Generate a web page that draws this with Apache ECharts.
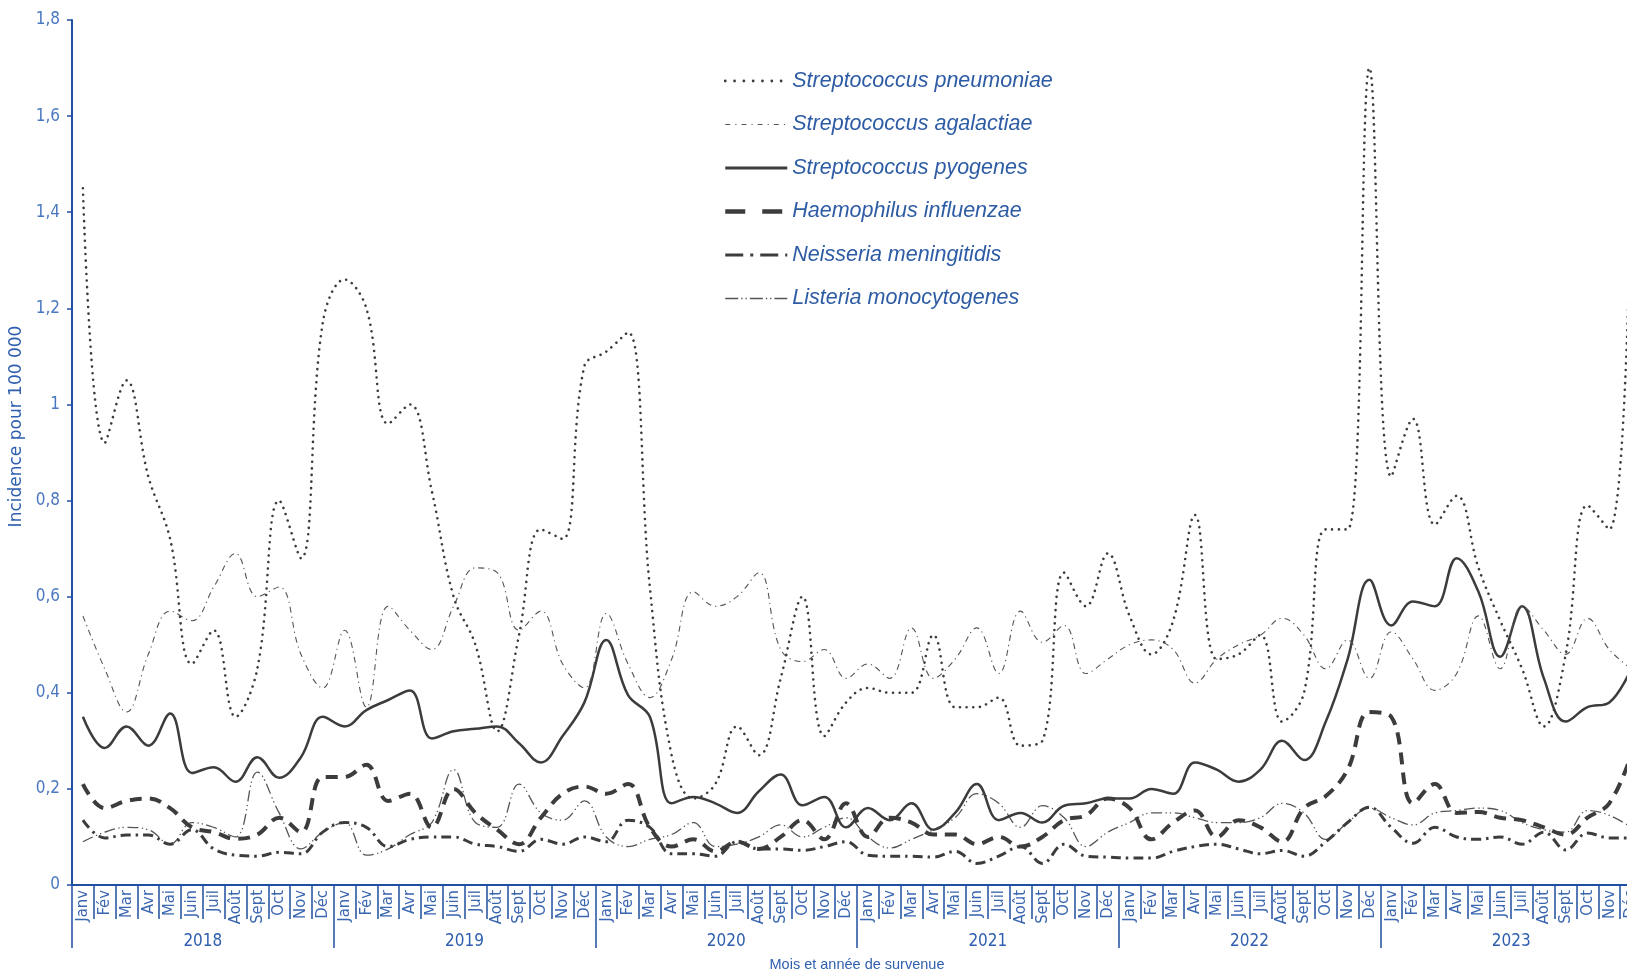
<!DOCTYPE html>
<html>
<head>
<meta charset="utf-8">
<script src="https://cdn.jsdelivr.net/npm/echarts@6/dist/echarts.min.js"></script>
<style>
html,body{margin:0;padding:0;background:#fff;overflow:hidden;}
#chart{width:1627px;height:970px;}
</style>
</head>
<body>
<div id="chart"></div>
<script>
const monthNames = ['Janv','Fév','Mar','Avr','Mai','Juin','Juil','Août','Sept','Oct','Nov','Déc'];
const years = ['2018','2019','2020','2021','2022','2023'];

const pneumoniae = [
  1.45,0.92,1.05,0.85,0.72,0.46,0.53,0.35,0.45,0.80,0.68,1.17,
  1.26,1.20,0.96,1.00,0.82,0.60,0.50,0.32,0.52,0.74,0.72,1.08,
  1.11,1.15,0.62,0.27,0.18,0.21,0.33,0.27,0.43,0.60,0.31,0.38,
  0.41,0.40,0.40,0.52,0.37,0.37,0.39,0.29,0.30,0.65,0.58,0.69,
  0.56,0.48,0.55,0.77,0.47,0.48,0.52,0.34,0.40,0.74,0.74,1.70,
  0.85,0.97,0.75,0.81,0.66,0.55,0.45,0.33,0.48,0.79,0.74,1.45
];
const agalactiae = [
  0.56,0.45,0.36,0.48,0.57,0.55,0.62,0.69,0.60,0.62,0.48,0.41,
  0.53,0.37,0.58,0.53,0.49,0.58,0.66,0.65,0.53,0.57,0.46,0.41,
  0.565,0.46,0.39,0.47,0.61,0.58,0.60,0.65,0.49,0.465,0.49,0.43,
  0.46,0.43,0.535,0.43,0.47,0.535,0.44,0.57,0.505,0.54,0.44,0.47,
  0.50,0.51,0.49,0.42,0.47,0.50,0.52,0.555,0.52,0.45,0.51,0.43,
  0.527,0.47,0.405,0.44,0.56,0.45,0.58,0.53,0.48,0.555,0.49,0.45
];
const pyogenes = [
  0.35,0.285,0.33,0.29,0.357,0.233,0.245,0.215,0.266,0.223,0.266,0.35,
  0.33,0.364,0.385,0.405,0.305,0.32,0.325,0.33,0.295,0.255,0.31,0.38,
  0.51,0.395,0.35,0.17,0.183,0.17,0.15,0.195,0.23,0.166,0.183,0.12,
  0.16,0.135,0.17,0.115,0.15,0.21,0.135,0.15,0.13,0.165,0.17,0.18,
  0.18,0.20,0.19,0.255,0.24,0.215,0.24,0.30,0.26,0.34,0.47,0.635,
  0.54,0.59,0.58,0.68,0.61,0.475,0.58,0.43,0.34,0.37,0.38,0.45
];
const influenzae = [
  0.21,0.16,0.175,0.18,0.16,0.12,0.11,0.096,0.105,0.14,0.11,0.225,
  0.225,0.25,0.175,0.19,0.12,0.20,0.15,0.115,0.085,0.14,0.19,0.205,
  0.19,0.21,0.12,0.08,0.095,0.07,0.09,0.075,0.10,0.135,0.095,0.17,
  0.10,0.14,0.13,0.105,0.105,0.085,0.10,0.08,0.10,0.135,0.145,0.18,
  0.16,0.095,0.13,0.155,0.10,0.135,0.12,0.09,0.16,0.185,0.24,0.36,
  0.35,0.17,0.21,0.15,0.152,0.14,0.135,0.12,0.105,0.14,0.17,0.27
];
const meningitidis = [
  0.135,0.098,0.104,0.104,0.085,0.115,0.075,0.062,0.06,0.068,0.065,0.11,
  0.13,0.12,0.08,0.095,0.10,0.10,0.085,0.08,0.07,0.095,0.085,0.10,
  0.09,0.135,0.12,0.065,0.065,0.06,0.09,0.075,0.075,0.072,0.08,0.09,
  0.062,0.06,0.06,0.058,0.07,0.045,0.06,0.08,0.045,0.085,0.06,0.058,
  0.056,0.056,0.07,0.08,0.085,0.075,0.065,0.072,0.06,0.09,0.13,0.162,
  0.12,0.087,0.12,0.10,0.095,0.10,0.085,0.11,0.073,0.108,0.098,0.098
];
const listeria = [
  0.09,0.11,0.12,0.115,0.085,0.13,0.12,0.10,0.235,0.15,0.075,0.11,
  0.13,0.062,0.075,0.105,0.13,0.24,0.13,0.12,0.21,0.15,0.135,0.175,
  0.10,0.08,0.095,0.105,0.13,0.08,0.085,0.10,0.125,0.10,0.12,0.14,
  0.10,0.077,0.095,0.115,0.14,0.19,0.17,0.12,0.165,0.14,0.08,0.11,
  0.13,0.15,0.15,0.14,0.13,0.13,0.14,0.17,0.15,0.095,0.13,0.16,
  0.14,0.125,0.15,0.155,0.16,0.155,0.13,0.115,0.11,0.155,0.145,0.12
];
const seriesNames = ['Streptococcus pneumoniae','Streptococcus agalactiae','Streptococcus pyogenes','Haemophilus influenzae','Neisseria meningitidis','Listeria monocytogenes'];

const categories = [];
years.forEach(y => monthNames.forEach(m => categories.push(m)));

const NARROW = "'Liberation Sans Narrow','Arial Narrow','DejaVu Sans Condensed',sans-serif";
const REG = "'Liberation Sans',Arial,sans-serif";
const AXIS = '#1f4fa0';
const LBL = '#4a78c0';
const DARK = '#3c3c3c';
const THIN = '#555555';

const styles = [
  {color: DARK, width: 2.6, type: [0.01, 6.6], cap: 'round'},
  {color: THIN, width: 1.1, type: [6, 4, 1.2, 4]},
  {color: DARK, width: 2.5, type: 'solid'},
  {color: DARK, width: 4, type: [12, 8]},
  {color: DARK, width: 3, type: [10, 5, 2.5, 5]},
  {color: THIN, width: 1.3, type: [11, 3.5, 1.3, 3, 1.3, 3.5]}
];
const legendStyles = [
  {color: DARK, width: 2.8, type: [0.01, 9.3], cap: 'round'},
  {color: THIN, width: 1.1, type: [5, 5, 1.2, 5]},
  {color: DARK, width: 3, type: 'solid'},
  {color: DARK, width: 4.5, type: [20, 17]},
  {color: DARK, width: 3, type: [18, 7, 3, 7]},
  {color: THIN, width: 1.3, type: [13, 3, 1.3, 3, 1.3, 3]}
];
const dataSets = [pneumoniae, agalactiae, pyogenes, influenzae, meningitidis, listeria];

const chart = echarts.init(document.getElementById('chart'));
chart.setOption({
  animation: false,
  backgroundColor: '#ffffff',
  grid: {left: 72, top: 20, width: 1570, height: 865, containLabel: false, outerBoundsMode: 'none'},
  legend: {
    orient: 'vertical',
    left: 718, top: 65,
    itemWidth: 62, itemHeight: 14, itemGap: 21.5,
    textStyle: {fontFamily: REG, fontSize: 21.5, fontStyle: 'italic', color: '#2e5ca4'},
    data: seriesNames.map((n, i) => ({name: n, lineStyle: legendStyles[i], itemStyle: {opacity: 0}}))
  },
  xAxis: [
    {
      type: 'category', data: categories, position: 'bottom', boundaryGap: true,
      axisLine: {show: true, lineStyle: {color: AXIS, width: 2}},
      axisTick: {show: true, interval: 0, length: 34, lineStyle: {color: AXIS, width: 1.5}},
      axisLabel: {interval: 0, rotate: 90, margin: 5, color: '#3a66b0', fontFamily: NARROW, fontSize: 16.5}
    },
    {
      type: 'category', data: years, position: 'bottom', boundaryGap: true,
      axisLine: {show: false},
      axisTick: {show: true, interval: 0, length: 63, lineStyle: {color: AXIS, width: 1.5}},
      axisLabel: {interval: 0, margin: 48, color: '#2f5fae', fontFamily: NARROW, fontSize: 17},
      name: 'Mois et année de survenue', nameLocation: 'middle', nameGap: 72,
      nameTextStyle: {color: '#2f5fae', fontFamily: REG, fontSize: 14.5}
    }
  ],
  yAxis: {
    type: 'value', min: 0, max: 1.8, interval: 0.2,
    axisLine: {show: true, lineStyle: {color: AXIS, width: 2}},
    axisTick: {show: true, length: 5, lineStyle: {color: AXIS, width: 1.5}},
    splitLine: {show: false},
    axisLabel: {margin: 12, color: LBL, fontFamily: NARROW, fontSize: 17,
      formatter: v => String(+v.toFixed(1)).replace('.', ',')},
    name: 'Incidence pour 100 000', nameLocation: 'middle', nameGap: 35,
    nameTextStyle: {color: '#2f5fae', fontFamily: "'DejaVu Sans',sans-serif", fontSize: 17, padding: [0, 0, 0, 52]}
  },
  series: dataSets.map((d, i) => ({
    name: seriesNames[i], type: 'line', data: d, xAxisIndex: 0,
    symbol: 'none', showSymbol: false, smooth: 0.4,
    lineStyle: styles[i], itemStyle: {color: styles[i].color},
    z: 10 - i
  }))
});
</script>
</body>
</html>
